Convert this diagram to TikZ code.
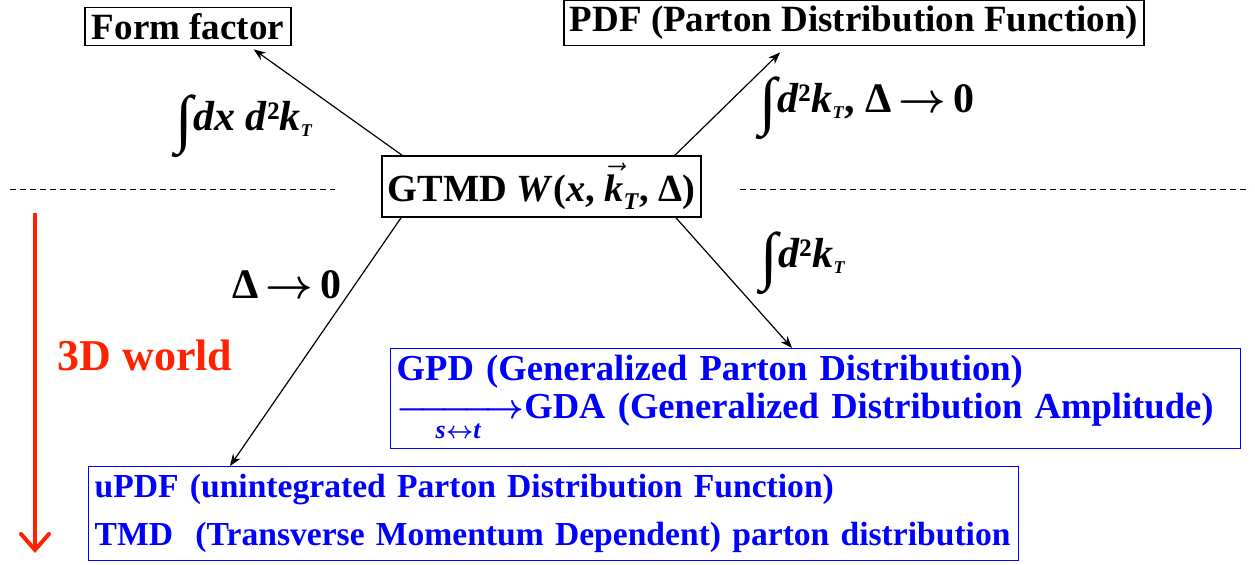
\documentclass[tikz,border=0pt]{standalone}
\usepackage{amsmath}
\usepackage{fontspec}
\setmainfont{Liberation Serif}
\usetikzlibrary{positioning, arrows.meta}
\definecolor{worldred}{HTML}{FF2200}
\definecolor{namblue}{HTML}{0000FF}
\newcommand{\kT}{\textit{k}\raisebox{-3pt}{\fontsize{9}{9}\selectfont\textit{T}}}
\newcommand{\kTvec}{$\vec{\mbox{\textit{k}}}$\raisebox{-4pt}{\fontsize{12}{12}\selectfont\textit{T}}}
\newcommand{\bigint}{{\fontsize{32}{32}\selectfont\raisebox{-5pt}{∫}}}
\newcommand{\toarrow}{\,{\boldmath$\rightarrow$}\,}

\begin{document}
\begin{tikzpicture}[x=0.5pt, y=-0.5pt, >={Stealth[length=6pt,width=4.5pt]},
    box/.style={draw=black, line width=0.7pt, inner sep=3pt},
    big/.style={font=\bfseries\fontsize{18.5}{20}\selectfont},
    lbl/.style={font=\bfseries\fontsize{21}{22}\selectfont},
    blue/.style={namblue, align=left}]
    \useasboundingbox (0,0) rectangle (1255,565);
    % boxes
    \node[box, big, minimum width=103pt, minimum height=18.5pt] (ff) at (188,26.5) {Form factor};
    \node[box, big, minimum width=289pt, minimum height=19pt] (pdf) at (854,23) {PDF (Parton Distribution Function)};
    \node[box, font=\bfseries\fontsize{19.2}{21}\selectfont, minimum width=159.5pt, minimum height=30.5pt] (gtmd) at (541.5,186.5)
        {GTMD \textit{W}(\textit{x}, \kTvec, Δ)};
    \node[box, blue, font=\bfseries\fontsize{18.3}{19}\selectfont, anchor=north west, text width=419pt, minimum height=46pt] (gpd) at (390,348)
        {GPD (Generalized Parton Distribution)\\[0pt]
         \mbox{\boldmath$\xrightarrow[\text{\fontsize{13}{13}\selectfont\itshape s$\leftrightarrow$t}]{\hspace{2.9em}}$GDA (Generalized Distribution Amplitude)}};
    \node[box, blue, font=\bfseries\fontsize{16.8}{19}\selectfont, anchor=north west, text width=459pt, minimum height=47pt] (updf) at (88,466)
        {uPDF (unintegrated Parton Distribution Function)\\[5pt]
         TMD\ \ (Transverse Momentum Dependent) parton distribution};
    % arrows
    \draw[->, line width=0.6pt] ([xshift=10.5pt]gtmd.north west) -- ([shift={(-19pt,-1.5pt)}]ff.south east);
    \draw[->, line width=0.6pt] ([xshift=-13.5pt]gtmd.north east) -- ([shift={(108.5pt,-3pt)}]pdf.south west);
    \draw[->, line width=0.6pt] ([xshift=-13pt]gtmd.south east) -- ([xshift=201pt]gpd.north west);
    \draw[->, line width=0.6pt] ([xshift=10pt]gtmd.south west) -- ([xshift=71pt]updf.north west);
    % labels
    \node[lbl] (l1) at (244,126) {\bigint\textit{dx d}²\kT};
    \node[lbl] (l2) at (867,108) {\bigint\textit{d}²\kT, Δ\toarrow0};
    \node[lbl] (l3) at (803,263) {\bigint\textit{d}²\kT};
    \node[lbl] (l4) at (287,285) {Δ\toarrow0};
    % dashed divider
    \draw[dashed, dash pattern=on 3pt off 2pt, line width=0.5pt] (10,190) -- (335,190);
    \draw[dashed, dash pattern=on 3pt off 2pt, line width=0.5pt] (740,190) -- (1250,190);
    % 3D world
    \node[worldred, font=\bfseries\fontsize{22}{24}\selectfont] (world) at (145,355) {3D world};
    \draw[worldred, line width=2pt, -{Straight Barb[length=8pt,width=14pt,line cap=round]}] (35,213) -- (35,553);
\end{tikzpicture}
\end{document}
